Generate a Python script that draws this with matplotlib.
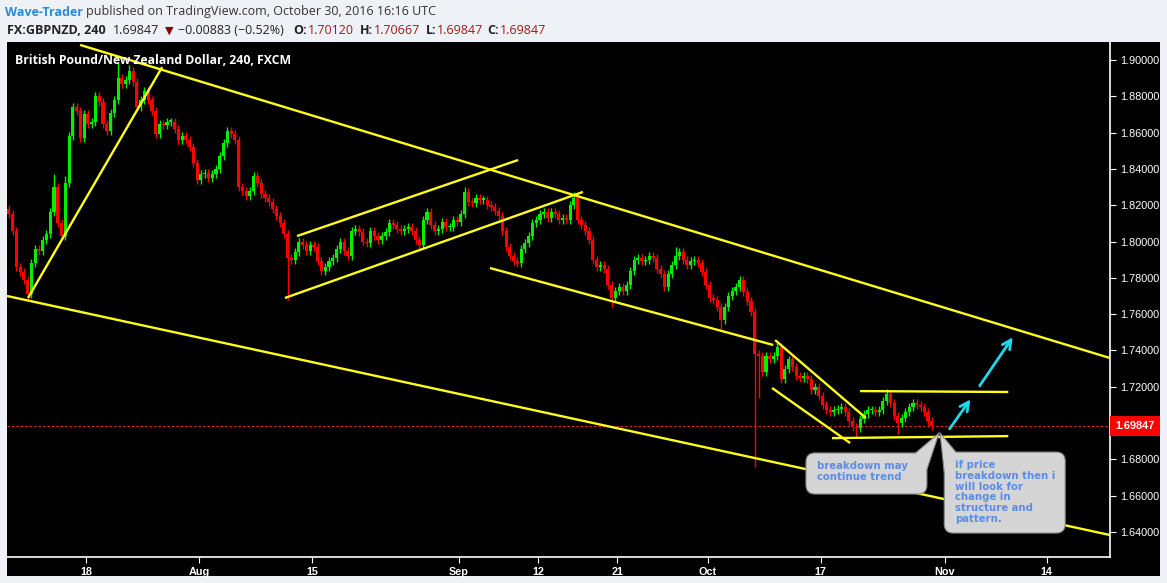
import numpy as np
import pandas as pd
import matplotlib
matplotlib.use('Agg')
import matplotlib.pyplot as plt
from matplotlib.patches import Rectangle, FancyBboxPatch, Polygon

# GBPNZD, 8h candles from 7 Jul to 28 Oct 2016, closes
first_open = 1.818
closes = [
    1.815, 1.806, 1.786, 1.783, 1.779, 1.771, 1.788, 1.796, 1.795, 1.801,
    1.804, 1.816, 1.830, 1.810, 1.803, 1.832, 1.858, 1.874, 1.872, 1.857,
    1.870, 1.865, 1.866, 1.880, 1.877, 1.865, 1.861, 1.871, 1.878, 1.890,
    1.887, 1.889, 1.894, 1.888, 1.874, 1.878, 1.883, 1.878, 1.872, 1.859,
    1.865, 1.864, 1.866, 1.866, 1.862, 1.856, 1.858, 1.856, 1.852, 1.843,
    1.834, 1.837, 1.838, 1.835, 1.837, 1.840, 1.847, 1.854, 1.861, 1.859,
    1.856, 1.830, 1.828, 1.825, 1.828, 1.836, 1.832, 1.826, 1.824, 1.822,
    1.818, 1.814, 1.810, 1.804, 1.791, 1.790, 1.794, 1.800, 1.798, 1.795,
    1.798, 1.797, 1.789, 1.784, 1.786, 1.789, 1.791, 1.796, 1.800, 1.795,
    1.792, 1.806, 1.807, 1.805, 1.800, 1.799, 1.806, 1.803, 1.801, 1.803,
    1.805, 1.810, 1.809, 1.807, 1.806, 1.807, 1.808, 1.806, 1.801, 1.798,
    1.812, 1.816, 1.809, 1.806, 1.807, 1.811, 1.808, 1.808, 1.812, 1.811,
    1.815, 1.827, 1.822, 1.821, 1.824, 1.823, 1.823, 1.820, 1.819, 1.817,
    1.814, 1.806, 1.797, 1.792, 1.789, 1.788, 1.796, 1.799, 1.803, 1.810,
    1.812, 1.815, 1.816, 1.813, 1.816, 1.815, 1.812, 1.813, 1.812, 1.820,
    1.824, 1.812, 1.809, 1.806, 1.801, 1.790, 1.786, 1.787, 1.785, 1.776,
    1.769, 1.773, 1.775, 1.773, 1.776, 1.784, 1.790, 1.791, 1.789, 1.790,
    1.792, 1.791, 1.785, 1.782, 1.775, 1.782, 1.787, 1.792, 1.794, 1.790,
    1.787, 1.789, 1.790, 1.788, 1.783, 1.776, 1.769, 1.768, 1.764, 1.757,
    1.764, 1.770, 1.773, 1.775, 1.779, 1.772, 1.767, 1.761, 1.738, 1.737,
    1.728, 1.737, 1.735, 1.737, 1.742, 1.724, 1.730, 1.735, 1.731, 1.726,
    1.725, 1.726, 1.724, 1.718, 1.720, 1.715, 1.710, 1.707, 1.706, 1.707,
    1.708, 1.709, 1.706, 1.701, 1.698, 1.697, 1.702, 1.705, 1.707, 1.707,
    1.706, 1.707, 1.712, 1.716, 1.711, 1.704, 1.700, 1.703, 1.706, 1.709,
    1.711, 1.710, 1.709, 1.706, 1.701, 1.69847,
]
# wicks that reach further than the usual few pips
long_highs = {12: 1.837, 15: 1.836, 29: 1.899, 32: 1.897, 121: 1.830, 150: 1.827,
              177: 1.797, 233: 1.7185}
long_lows = {5: 1.767, 74: 1.768, 160: 1.764, 189: 1.752, 198: 1.676, 199: 1.714,
             225: 1.692, 236: 1.694}
last_price = 1.69847

first_day = '2016-07-07'
tick_dates = ['2016-07-18', '2016-08-01', '2016-08-15', '2016-09-01', '2016-09-12',
              '2016-09-21', '2016-10-03', '2016-10-17', '2016-11-01', '2016-11-14']
tick_labels = ['18', 'Aug', '15', 'Sep', '12', '21', 'Oct', '17', 'Nov', '14']
price_ticks = [1.64, 1.66, 1.68, 1.72, 1.74, 1.76, 1.78, 1.80, 1.82, 1.84, 1.86, 1.88, 1.90]

# hand drawn lines, (bar, price) end points
trend_lines = [
    ((18.9, 1.9083), (292.3, 1.7358)),
    ((-0.5, 1.7700), (292.3, 1.6383)),
    ((5.1, 1.7689), (40.7, 1.8961)),
    ((76.5, 1.8030), (135.2, 1.8449)),
    ((73.3, 1.7689), (152.4, 1.8273)),
    ((127.7, 1.7854), (202.9, 1.7430)),
    ((203.4, 1.7457), (227.5, 1.7028)),
    ((202.6, 1.7193), (223.3, 1.6890)),
    ((225.96, 1.7176), (265.3, 1.7171)),
    ((218.5, 1.6917), (265.3, 1.6928)),
]
arrows = [((249.3, 1.6956), (255.7, 1.7143)),
          ((257.3, 1.7193), (266.9, 1.7485))]
# callouts: box (bar0, bar1, price_low, price_high), tail tip, tail base points
notes = [
    dict(box=(211.6, 243.7, 1.6609, 1.6835), tip=(246.9, 1.6944),
         base=[(240.7, 1.6835), (243.7, 1.6745)],
         text='breakdown may\ncontinue trend'),
    dict(box=(248.3, 280.4, 1.6394, 1.6840), tip=(247.2, 1.6944),
         base=[(248.3, 1.6730), (251.4, 1.6840)],
         text='if price\nbreakdown then i\nwill look for\nchange in\nstructure and\npattern.'),
]

W, H = 1167, 583
BARS_PER_DAY = 3
fig = plt.figure(figsize=(W / 100, H / 100), dpi=100, facecolor='#eef2f6')
fig.patches.append(Rectangle((7 / W, 7 / H), 1153 / W, 534 / H, transform=fig.transFigure,
                             facecolor='black', edgecolor='none', zorder=-5))
ax = fig.add_axes([7 / W, 26 / H, 1103 / W, 515 / H])
ax.set_facecolor('black')

opens = np.array([first_open] + closes[:-1])
cl = np.array(closes)
xs = np.arange(len(cl))
hi = np.maximum(opens, cl) + 0.0022
lo = np.minimum(opens, cl) - 0.0022
for k, v in long_highs.items():
    hi[k] = v
for k, v in long_lows.items():
    lo[k] = v
up = cl >= opens
cols = np.where(up, '#00f000', '#ff0000')
ax.vlines(xs, lo, hi, colors=cols, lw=1.0, zorder=2)
body = np.maximum(np.abs(cl - opens), 0.0008)
ax.bar(xs, body, bottom=np.minimum(opens, cl), width=0.82, color=cols, lw=0, zorder=3)

for (x0, y0), (x1, y1) in trend_lines:
    ax.plot([x0, x1], [y0, y1], color='#ffff1a', lw=1.7, zorder=4, solid_capstyle='butt')
for (x0, y0), (x1, y1) in arrows:
    ax.annotate('', xy=(x1, y1), xytext=(x0, y0), zorder=5,
                arrowprops=dict(arrowstyle='->', color='#1ed8ee', lw=2, mutation_scale=16))

ax.axhline(last_price, color='#ff2020', lw=0.8, ls=(0, (2, 2)), zorder=1)

days = pd.bdate_range(first_day, '2016-11-30')
day_idx = {d.strftime('%Y-%m-%d'): i for i, d in enumerate(days)}
tick_pos = [day_idx[d] * BARS_PER_DAY - 0.5 for d in tick_dates]
ax.set_xlim(-0.48, 292.3)
ax.set_ylim(1.6262, 1.9099)
ax.set_xticks(tick_pos)
ax.set_xticklabels(tick_labels, fontweight='bold', family='Liberation Sans')
ax.yaxis.tick_right()
ax.set_yticks(price_ticks)
ax.set_yticklabels(['%.5f' % p for p in price_ticks], family='Liberation Sans')
ax.tick_params(axis='both', colors='white', labelcolor='white', labelsize=7.8, length=4)
ax.tick_params(axis='x', pad=3)
ax.tick_params(axis='y', pad=3)
for s in ['top', 'left']:
    ax.spines[s].set_visible(False)
for s in ['right', 'bottom']:
    ax.spines[s].set_color('white')
    ax.spines[s].set_linewidth(1.2)

# overlay in pixel units for labels and callouts
ov = fig.add_axes([0, 0, 1, 1], facecolor='none')
ov.set_xlim(0, W)
ov.set_ylim(0, H)
ov.axis('off')
fig.canvas.draw()


def px(b, p):
    return tuple(ax.transData.transform((b, p)))


for n in notes:
    b0, b1, p0, p1 = n['box']
    (x0, y0), (x1, y1) = px(b0, p0), px(b1, p1)
    ov.add_patch(FancyBboxPatch((x0, y0), x1 - x0, y1 - y0,
                                boxstyle='round,pad=0,rounding_size=9',
                                facecolor='#d5d5d5', edgecolor='#8a8a8a', lw=0.8, zorder=6))
    tip = px(*n['tip'])
    base = [px(*q) for q in n['base']]
    ov.add_patch(Polygon([base[0], tip, base[1]], closed=True, facecolor='#d5d5d5',
                         edgecolor='none', zorder=7))
    for q in base:
        ov.plot([q[0], tip[0]], [q[1], tip[1]], color='#8a8a8a', lw=0.8, zorder=8)
    ov.text(x0 + 11, y1 - 8, n['text'], ha='left', va='top', color='#5b8de8',
            fontsize=7.3, fontweight='bold', family='DejaVu Sans', linespacing=1.1, zorder=9)

ly = px(0, last_price)[1]
ov.add_patch(Rectangle((1110, ly - 10), 50, 20, facecolor='#ff0000', edgecolor='none', zorder=6))
ov.text(1135, ly, '%.5f' % last_price, color='white', fontsize=7.8, fontweight='bold',
        family='Liberation Sans', ha='center', va='center', zorder=7)

ov.text(15, H - 61, 'British Pound/New Zealand Dollar, 240, FXCM', color='white',
        fontsize=8.8, fontweight='bold', family='Open Sans', va='center', zorder=9)

# header lines
hf = dict(family='Open Sans', fontsize=9, va='center')
ov.text(5, H - 12, 'Wave-Trader', color='#2b8ad6', fontweight='bold', **hf)
ov.text(86, H - 12, 'published on TradingView.com, October 30, 2016 16:16 UTC', color='#333333', **hf)
row = [(7, 'FX:GBPNZD, 240', '#222222', 'bold'), (113, '1.69847', '#222222', 'normal'),
       (178, '\u22120.00883 (\u22120.52%)', '#222222', 'normal'),
       (293, 'O:', '#222222', 'bold'), (308, '1.70120', '#9c1a1a', 'normal'),
       (360, 'H:', '#222222', 'bold'), (374, '1.70667', '#9c1a1a', 'normal'),
       (426, 'L:', '#222222', 'bold'), (437, '1.69847', '#9c1a1a', 'normal'),
       (487, 'C:', '#222222', 'bold'), (500, '1.69847', '#9c1a1a', 'normal')]
for x, s, c, w in row:
    ov.text(x, H - 31, s, color=c, fontweight=w, **hf)
ov.text(165, H - 31, '\u25bc', color='#8b0000', family='DejaVu Sans', fontsize=8, va='center')

fig.savefig('out.png', dpi=100, facecolor=fig.get_facecolor())
